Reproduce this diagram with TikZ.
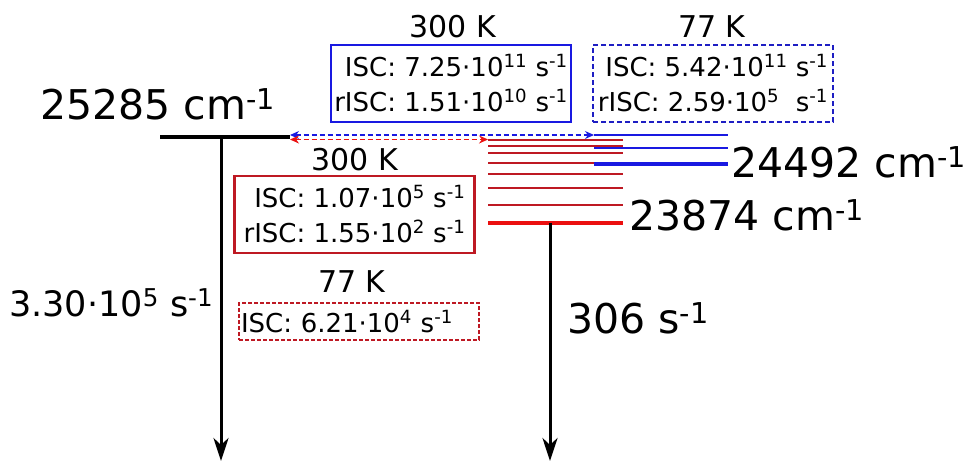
\documentclass[tikz,border=0pt]{standalone}
\usepackage{fontspec}
\setmainfont{DejaVu Sans}
\usetikzlibrary{arrows.meta}
\definecolor{lvblue}{RGB}{25,25,225}
\definecolor{lvnavy}{RGB}{30,30,195}
\definecolor{lvred}{RGB}{235,15,15}
\definecolor{lvdark}{RGB}{190,25,35}
\tikzset{
  slevel/.style={line width=4.5pt,draw=black},
  tlevel/.style={line width=1.3pt,draw=lvdark},
  tlevelmin/.style={line width=3.5pt,draw=lvred},
  blevel/.style={line width=1.3pt,draw=lvblue},
  blevelmin/.style={line width=3.5pt,draw=lvblue},
  decayarrow/.style={-{Stealth[length=23pt,width=15pt,inset=7pt]},line width=3pt},
  iscarrow/.style={{Stealth[length=9pt,width=8pt]}-{Stealth[length=9pt,width=8pt]},
    line width=1.3pt,dash pattern=on 5pt off 3pt},
  ratebox/.style={minimum width=240pt,minimum height=77pt,align=right,inner sep=2pt,
    font=\fontsize{26}{35}\selectfont},
  energylabel/.style={anchor=base west,inner sep=0pt,font=\fontsize{41}{49}\selectfont},
  templabel/.style={anchor=base,inner sep=0pt,font=\fontsize{30}{36}\selectfont}
}
\newcommand{\rate}[2]{#1\textperiodcentered10\textsuperscript{#2}~s\textsuperscript{-1}}
\newcommand{\wn}{cm\textsuperscript{-1}}

\begin{document}
\begin{tikzpicture}[x=1pt,y=-1pt]
  \useasboundingbox (0,0) rectangle (966,461);
  % singlet level
  \coordinate (s1a) at (160,137);
  \coordinate (s1b) at (290,137);
  \coordinate (s1d) at (221,137);
  \draw[slevel] (s1a) -- (s1b);
  % triplet manifold (red) and the upper levels (blue)
  \foreach \y in {140,146,153,163,174,188,205}
    \draw[tlevel] (488,\y) -- (623,\y);
  \coordinate (t1a) at (488,223);
  \coordinate (t1b) at (623,223);
  \coordinate (t1d) at (550,223);
  \draw[tlevelmin] (t1a) -- (t1b);
  \foreach \y in {135,148}
    \draw[blevel] (594,\y) -- (728,\y);
  \draw[blevelmin] (594,164) -- (728,164);
  % ISC / rISC
  \coordinate (bl) at (290,135);
  \coordinate (br) at (594,135);
  \coordinate (rl) at (290,139.5);
  \coordinate (rr) at (488,139.5);
  \draw[iscarrow,lvblue] (bl) -- (br);
  \draw[iscarrow,lvred] (rl) -- (rr);
  % radiative decay
  \coordinate (s0a) at (221,461);
  \coordinate (s0b) at (550,461);
  \draw[decayarrow] (s1d) -- (s0a);
  \draw[decayarrow] (t1d) -- (s0b);
  % energies and rates
  \node[energylabel] (es1) at (40,119) {25285 \wn};
  \node[energylabel] (et2) at (731,177) {24492 \wn};
  \node[energylabel] (et1) at (629,230) {23874 \wn};
  \node[energylabel] (kt) at (567,333) {306 s\textsuperscript{-1}};
  \node[energylabel,font=\fontsize{35}{42}\selectfont] (ks) at (9,316)
    {3.30\textperiodcentered10\textsuperscript{5} s\textsuperscript{-1}};
  % rate constant boxes
  \node[templabel] (tbh) at (453,37) {300 K};
  \node[templabel] (tbl) at (712,37) {77 K};
  \node[ratebox,draw=lvblue,line width=2.5pt] (bhot) at (451,83.5)
    {ISC: \rate{7.25}{11}\\rISC: \rate{1.51}{10}};
  \node[ratebox,draw=lvnavy,line width=2.3pt,dash pattern=on 5pt off 3pt] (bcold) at (713,83.5)
    {ISC: \rate{5.42}{11}\\rISC: 2.59\textperiodcentered10\textsuperscript{5}\ \ s\textsuperscript{-1}};
  \node[templabel] (trh) at (355,170) {300 K};
  \node[templabel] (trl) at (352,292) {77 K};
  \node[ratebox,draw=lvdark,line width=2.5pt] (rhot) at (354.5,214.5)
    {ISC: \rate{1.07}{5}\\rISC: \rate{1.55}{2}};
  \node[ratebox,draw=lvdark,line width=1.3pt,dash pattern=on 4pt off 2pt,
    minimum height=37pt,text width=236pt,align=left] (rcold) at (359,321.5)
    {ISC: \rate{6.21}{4}};
\end{tikzpicture}
\end{document}
